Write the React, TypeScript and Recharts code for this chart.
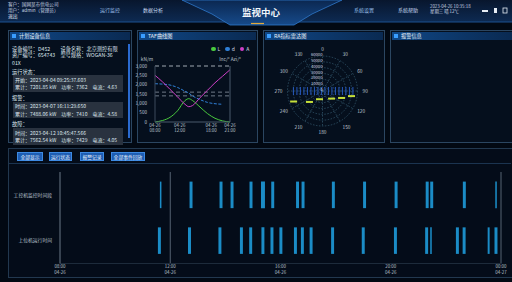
import React from 'react';
import {
  LineChart, Line, XAxis, YAxis, Legend, ReferenceLine,
  RadarChart, PolarGrid, PolarAngleAxis, PolarRadiusAxis, Radar,
  ComposedChart, ReferenceArea, Scatter,
} from 'recharts';

const FONT = '"Noto Sans CJK SC", "Noto Sans", sans-serif';
const AXIS_TEXT = '#b9c2cd';

// TAF curve panel
const tafX = [0, 10, 20, 30, 40, 45, 50, 60, 70, 80, 90, 100];
const tafL = [0, 80, 250, 600, 1150, 1250, 1150, 800, 450, 200, 60, 0];
const tafD = [2050, 2030, 1980, 1850, 1650, 1550, 1400, 1200, 1050, 980, 950, null];
const tafA = [2500, 2150, 1750, 1350, 950, 820, 880, 1300, 1700, 2100, 2450, 2800];
const tafNames = ['L', 'd', 'A'];
const tafXTicks = [0, 33, 75, 100];
const tafXLabels = [['04-26', '08:00'], ['04-26', '12:00'], ['04-26', '18:00'], ['04-26', '21:00']];
const tafLeftTicks = [0, 500, 1000, 1500, 2000, 2500, 3000];
const tafMidTicks = [0, 0.5, 1, 1.5, 2];
const tafRightTicks = [0, 100, 200, 300];
const tafLimits = [3000, 1600, 1400];

// RA polar panel
const polarAngles = Array.from({ length: 36 }, (_, i) => i * 10);
const yellowAngles = [100, 110, 130, 200, 230, 250];
const yellowValues = [50500, 34800, 20300, 15000, 29200, 52700];
const blueAngles = [90, 270];
const blueValues = [53000, 52000];
const radiusTicks = [0, 10000, 20000, 30000, 40000, 50000, 60000];

// timeline panel
const rowNames = ['工控机监控时间段', '上位机运行时间'];
const row1Start = [90.6, 117.5, 144.7, 154.7, 171.9, 182.3, 191.6, 214.1, 219.1, 246.6, 274.9, 303.5, 331.7, 335.8, 365.4, 394.8];
const row1Dur = [1.4, 2.7, 2.7, 2.7, 2.7, 3.6, 2.7, 2.7, 2.7, 2.7, 2.7, 2.7, 2.7, 2.7, 2.7, 1.4];
const row2Start = [88.8, 116.1, 143.7, 163.2, 171.6, 182.7, 190.9, 199.0, 212.2, 218.5, 226.4, 245.9, 273.7, 302.9, 331.2, 335.8, 359.1, 365.2, 387.9, 394.1];
const row2Dur = [2.7, 2.7, 2.7, 2.7, 2.7, 2.7, 2.7, 2.7, 2.7, 2.7, 2.7, 2.7, 2.7, 2.7, 2.7, 1.4, 2.7, 2.7, 1.8, 2.7];
const timeTicks = [0, 100, 200, 300, 400];
const timeLabels = [['08:00', '04-26'], ['12:00', '04-26'], ['16:00', '04-26'], ['20:00', '04-26'], ['00:00', '04-27']];
const timeMarkers = [100, 400];

const tafData = tafX.map((x, i) => ({ x, L: tafL[i], d: tafD[i], A: tafA[i] }));
const polarData = polarAngles.map((a) => {
  const yi = yellowAngles.indexOf(a);
  const bi = blueAngles.indexOf(a);
  return { angle: a, yellow: yi >= 0 ? yellowValues[yi] : 0, blue: bi >= 0 ? blueValues[bi] : 0 };
});
const timelineRows = [
  { y: 1.5, starts: row1Start, durs: row1Dur },
  { y: 0.5, starts: row2Start, durs: row2Dur },
];
const timelineEvents = timelineRows.flatMap((r) => r.starts.map((s) => ({ x: s, y: r.y })));

const TwoLineTick = (props: any) => {
  const { x, y, payload, ticks, labels } = props;
  const i = ticks.indexOf(payload.value);
  const lines = labels[i] || [String(payload.value), ''];
  return (
    <text x={x} y={y} textAnchor="middle" fontSize={4.4} fill={AXIS_TEXT} fontFamily={FONT}>
      <tspan x={x} dy={-3.2}>{lines[0]}</tspan>
      <tspan x={x} dy={5.2}>{lines[1]}</tspan>
    </text>
  );
};

const Panel = ({ left, top, width, height, title }: any) => (
  <div style={{
    position: 'absolute', left, top, width, height, boxSizing: 'border-box',
    border: '1px solid #2b4661', background: '#050f1d',
  }}>
    <div style={{
      height: 8, margin: '1px 1px 0', display: 'flex', alignItems: 'center',
      background: 'linear-gradient(90deg,#104887,#0c3566 60%,#0a2a52)',
      color: '#e9f0f8', fontSize: 5.2, lineHeight: '8px', whiteSpace: 'nowrap',
    }}>
      <span style={{ width: 4, height: 4, background: '#3a9eff', margin: '0 3px 0 2px', display: 'inline-block' }} />
      {title}
    </div>
  </div>
);

const Header = () => (
  <svg width={512} height={28} style={{ position: 'absolute', left: 0, top: 0 }} fontFamily={FONT}>
    <defs>
      <linearGradient id="hdrBg" x1="0" y1="0" x2="0" y2="1">
        <stop offset="0%" stopColor="#08162d" />
        <stop offset="100%" stopColor="#0d2a52" />
      </linearGradient>
      <linearGradient id="hdrTab" x1="0" y1="0" x2="0" y2="1">
        <stop offset="0%" stopColor="#0b2750" />
        <stop offset="100%" stopColor="#164a8a" />
      </linearGradient>
    </defs>
    <rect x={0} y={0} width={512} height={22} fill="url(#hdrBg)" />
    <line x1={0} y1={22} x2={512} y2={22} stroke="#1d5190" />
    <polygon points="182,0 212,14 230,25 294,25 312,14 342,0" fill="url(#hdrTab)" stroke="#2f78cc" strokeWidth={0.8} />
    <line x1={251} y1={23.5} x2={264} y2={23.5} stroke="#e3a93a" strokeWidth={1.2} />
    <text x={261} y={16} textAnchor="middle" fontSize={9.5} fontWeight={700} fill="#f2f6fb">监视中心</text>
    <text x={8} y={6} fontSize={4.6} fill="#c9d4e2">客户：国网某市供电公司</text>
    <text x={8} y={11.5} fontSize={4.6} fill="#c9d4e2">用户：admin（管理员）</text>
    <text x={8} y={18} fontSize={4.8} fill="#e8eef6">退出</text>
    <text x={100} y={12} fontSize={5} fill="#9ec2ec">运行监控</text>
    <text x={143} y={12} fontSize={5} fill="#c9daf0">数据分析</text>
    <text x={354} y={12} fontSize={5} fill="#9ec2ec">系统设置</text>
    <text x={398} y={12} fontSize={5} fill="#c9daf0">系统帮助</text>
    <text x={430} y={8} fontSize={4.4} fill="#c9d4e2">2023-04-26 10:35:18</text>
    <text x={430} y={13} fontSize={4.4} fill="#c9d4e2">星期三 晴 12℃</text>
    <rect x={482} y={10} width={6} height={2} fill="#e6edf5" />
    <rect x={494} y={8} width={3} height={5} fill="#e6edf5" />
    <rect x={503} y={8} width={4} height={5} fill="none" stroke="#e6edf5" strokeWidth={0.8} />
  </svg>
);

const InfoLine = ({ top, children }: any) => (
  <div style={{ position: 'absolute', left: 12, top, fontSize: 5.2, lineHeight: '6px', color: '#dfe6ee', whiteSpace: 'nowrap' }}>{children}</div>
);

const InfoBox = ({ top, lines }: any) => (
  <div style={{ position: 'absolute', left: 13, top, width: 110, height: 16.5, background: '#29323f', fontSize: 5, color: '#dfe6ee' }}>
    <div style={{ position: 'absolute', left: 2, top: 1.5, lineHeight: '6px', whiteSpace: 'nowrap' }}>{lines[0]}</div>
    <div style={{ position: 'absolute', left: 2, top: 9, lineHeight: '6px', whiteSpace: 'nowrap' }}>{lines[1]}</div>
  </div>
);

const InfoPanel = () => (
  <>
    <Panel left={8} top={30} width={124} height={113} title="计划设备信息" />
    <InfoLine top={46}>设备编号：D452　　设备名称：北京测控有限</InfoLine>
    <InfoLine top={52}>资产编号：654743　型号规格：WOGAN-36</InfoLine>
    <InfoLine top={60}>01X</InfoLine>
    <InfoLine top={68.5}>运行状态：</InfoLine>
    <InfoBox top={75} lines={['开始：2023-04-04 09:25:37.603', '累计：7201.85 kW　功率：7362　电流：4.63']} />
    <InfoLine top={94.5}>报警：</InfoLine>
    <InfoBox top={101.5} lines={['时间：2023-04-07 16:11:29.650', '累计：7488.06 kW　功率：7410　电流：4.58']} />
    <InfoLine top={121}>故障：</InfoLine>
    <InfoBox top={128} lines={['时间：2023-04-12 10:45:47.566', '累计：7562.54 kW　功率：7429　电流：4.05']} />
    <div style={{ position: 'absolute', left: 127.5, top: 44, width: 2.5, height: 94, background: '#2a6ad0' }} />
  </>
);

const LegendRow = ({ payload }: any) => {
  const items = [...(payload || [])].sort((a: any, b: any) => tafNames.indexOf(a.value) - tafNames.indexOf(b.value));
  return (
    <div style={{ display: 'flex', gap: 5, fontSize: 5, color: '#d3dae3', fontFamily: FONT, lineHeight: '6px' }}>
      {items.map((p: any) => (
        <span key={p.value} style={{ display: 'flex', alignItems: 'center', gap: 2 }}>
          <span style={{ width: 4.5, height: 4.5, borderRadius: '50%', background: p.color, display: 'inline-block' }} />
          {p.value}
        </span>
      ))}
    </div>
  );
};

const TafChart = () => (
  <div style={{ position: 'absolute', left: 135, top: 44 }}>
    <LineChart width={123} height={92} data={tafData} margin={{ top: 22, right: 2, bottom: 0, left: 0 }}>
      <XAxis dataKey="x" type="number" domain={[0, 100]} ticks={tafXTicks} height={14} interval={0}
        tickLine={false} axisLine={{ stroke: '#4a5a6c' }}
        tick={(p: any) => <TwoLineTick {...p} ticks={tafXTicks} labels={tafXLabels} />} />
      <YAxis yAxisId="left" width={20} domain={[0, 3000]} ticks={tafLeftTicks} interval={0}
        tickFormatter={(v: number) => v.toLocaleString('en-US')} tickLine={false} tickMargin={2}
        axisLine={{ stroke: '#3c4b5c' }} tick={{ fontSize: 4.6, fill: AXIS_TEXT }}
        label={{ value: 'kN/m', position: 'top', offset: 5, dx: 2, fontSize: 4.8, fill: AXIS_TEXT }} />
      <YAxis yAxisId="mid" orientation="right" width={12} domain={[0, 2]} ticks={tafMidTicks} interval={0}
        tickLine={false} tickMargin={2} axisLine={{ stroke: '#4a5a6c' }} tick={{ fontSize: 4.6, fill: AXIS_TEXT }}
        label={{ value: 'Inc/°  Azi/°', position: 'top', offset: 5, dx: -6, fontSize: 4.8, fill: AXIS_TEXT }} />
      <YAxis yAxisId="right" orientation="right" width={14} domain={[0, 300]} ticks={tafRightTicks} interval={0}
        tickLine={false} tickMargin={2} axisLine={false} tick={{ fontSize: 4.6, fill: AXIS_TEXT }} />
      <Legend layout="vertical" align="center" verticalAlign="middle" content={<LegendRow />}
        wrapperStyle={{ left: 76, top: 2, width: 45, height: 6 }} />
      {tafLimits.map((v, i) => (
        <ReferenceLine key={v} yAxisId="left" y={v} stroke={i === 0 ? '#c7cfd8' : '#8a95a3'} strokeDasharray="4 3" strokeWidth={0.8} />
      ))}
      <Line yAxisId="left" name="L" dataKey="L" type="monotone" stroke="#49c83e" strokeWidth={1} dot={false} isAnimationActive={false} />
      <Line yAxisId="left" name="d" dataKey="d" type="monotone" stroke="#2f7fd6" strokeWidth={1} strokeDasharray="3 1.5" dot={false} isAnimationActive={false} />
      <Line yAxisId="left" name="A" dataKey="A" type="monotone" stroke="#cf3fc6" strokeWidth={1} dot={false} isAnimationActive={false} />
    </LineChart>
  </div>
);

const YellowDashes = (props: any) => (
  <g>
    {(props.points || []).filter((p: any) => p.value > 0).map((p: any, i: number) => (
      <rect key={i} x={p.x - 3.5} y={p.y - 1} width={7} height={2} fill="#c6e03a" />
    ))}
  </g>
);

const BlueBand = (props: any) => {
  const pts = (props.points || []).filter((p: any) => p.value > 0);
  if (pts.length < 2) return <g />;
  return (
    <line x1={pts[0].x} y1={pts[0].y} x2={pts[pts.length - 1].x} y2={pts[pts.length - 1].y}
      stroke="#2a5fcc" strokeWidth={8} strokeDasharray="1 2.5" opacity={0.9} />
  );
};

const PolarChart = () => (
  <div style={{ position: 'absolute', left: 263, top: 40 }}>
    <RadarChart width={122} height={100} data={polarData} cx={59.5} cy={51} outerRadius={35}
      startAngle={90} endAngle={-270} margin={{ top: 0, right: 0, bottom: 0, left: 0 }}>
      <PolarGrid gridType="circle" polarAngles={[0, 30, 60, 90, 120, 150, 180, 210, 240, 270, 300, 330]}
        stroke="#3e6a82" strokeDasharray="1.5 1.5" strokeWidth={0.6} />
      <PolarAngleAxis dataKey="angle" axisLine={false} tickLine={false} tickSize={5}
        tickFormatter={(v: number) => (v % 30 === 0 ? String(v) : '')}
        tick={{ fontSize: 4.8, fill: '#c0c9d4' }} />
      <PolarRadiusAxis angle={90} domain={[0, 60000]} ticks={radiusTicks as any} tickCount={7} orientation="left"
        axisLine={false} tick={{ fontSize: 4.2, fill: '#d5dce4' }} />
      <Radar dataKey="blue" shape={(p: any) => <BlueBand {...p} />} dot={false} isAnimationActive={false} />
      <Radar dataKey="yellow" shape={(p: any) => <YellowDashes {...p} />} dot={false} isAnimationActive={false} />
    </RadarChart>
  </div>
);

const TimelineChart = () => (
  <div style={{ position: 'absolute', left: 8, top: 165 }}>
    <ComposedChart width={502} height={115} data={timelineEvents} margin={{ top: 7, right: 9, bottom: 0, left: 0 }}>
      <XAxis type="number" dataKey="x" domain={[0, 400]} ticks={timeTicks} interval={0} height={16.5}
        allowDataOverflow tickLine={false} axisLine={{ stroke: '#1d2b3b' }}
        tick={(p: any) => <TwoLineTick {...p} ticks={timeTicks} labels={timeLabels} />} />
      <YAxis type="number" dataKey="y" domain={[0, 2]} ticks={[0.5, 1.5]} interval={0} width={52}
        allowDataOverflow tickFormatter={(v: number) => (v > 1 ? rowNames[0] : rowNames[1])}
        tickLine={false} tickMargin={2} axisLine={{ stroke: '#6a7888' }}
        tick={{ fontSize: 4.8, fill: AXIS_TEXT }} />
      <Scatter dataKey="y" shape={() => <g />} isAnimationActive={false} />
      {timeMarkers.map((t) => (
        <ReferenceLine key={t} x={t} stroke="#6a7888" strokeWidth={0.8} />
      ))}
      {timelineRows.map((r) => r.starts.map((s, i) => (
        <ReferenceArea key={`${r.y}-${i}`} x1={s} x2={s + r.durs[i]} y1={r.y - 0.29} y2={r.y + 0.29}
          fill="#1b8cc6" fillOpacity={1} stroke="none" />
      )))}
    </ComposedChart>
  </div>
);

const buttons = [
  { label: '全部显示', left: 17, width: 26 },
  { label: '运行状态', left: 49, width: 23 },
  { label: '报警记录', left: 80, width: 24 },
  { label: '全部事件回放', left: 111, width: 34 },
];

export default function App() {
  return (
    <div style={{
      position: 'fixed', left: 0, top: 0, width: 512, height: 282, overflow: 'hidden',
      background: '#020913', fontFamily: FONT, color: '#dde5ee',
    }}>
      <Header />
      <InfoPanel />
      <Panel left={137} top={30} width={121} height={113} title="TAF曲线图" />
      <TafChart />
      <Panel left={263} top={30} width={122} height={113} title="RA指标雷达图" />
      <PolarChart />
      <Panel left={390} top={30} width={124} height={113} title="报警信息" />
      <div style={{ position: 'absolute', left: 8, top: 148, width: 505, height: 130, boxSizing: 'border-box', border: '1px solid #22384f', background: '#040c19' }} />
      <div style={{ position: 'absolute', left: 9, top: 163, width: 502, height: 1, background: '#1b3450' }} />
      {buttons.map((b) => (
        <div key={b.label} style={{
          position: 'absolute', left: b.left, top: 152, width: b.width, height: 8.5, boxSizing: 'border-box',
          background: '#1d5db3', border: '0.6px solid #3d8ae2', color: '#eef4fb', fontSize: 4.8,
          lineHeight: '7.5px', textAlign: 'center', whiteSpace: 'nowrap',
        }}>{b.label}</div>
      ))}
      <TimelineChart />
    </div>
  );
}
